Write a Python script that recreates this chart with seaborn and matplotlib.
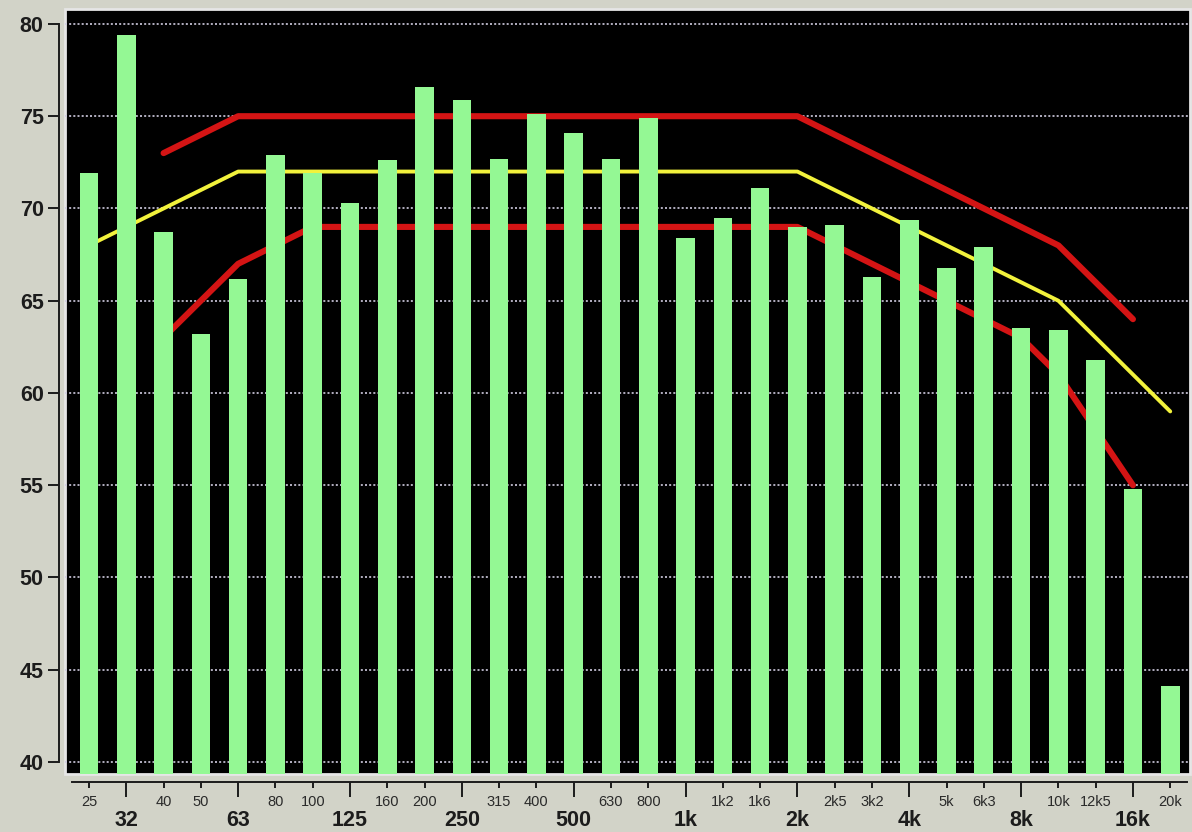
import numpy as np
import matplotlib
matplotlib.use("Agg")
import matplotlib.pyplot as plt
import seaborn as sns

# 1/3 octave bands and measured levels (dB)
bands = ["25", "32", "40", "50", "63", "80", "100", "125", "160", "200",
         "250", "315", "400", "500", "630", "800", "1k", "1k2", "1k6", "2k",
         "2k5", "3k2", "4k", "5k", "6k3", "8k", "10k", "12k5", "16k", "20k"]
levels = [71.9, 79.4, 68.7, 63.2, 66.2, 72.9, 71.9, 70.3, 72.6, 76.6,
          75.9, 72.7, 75.1, 74.1, 72.7, 74.9, 68.4, 69.5, 71.1, 69.0,
          69.1, 66.3, 69.4, 66.8, 67.9, 63.5, 63.4, 61.8, 54.8, 44.1]

# target curve and tolerance limits (None = not drawn)
target = [68, 69, 70, 71, 72, 72, 72, 72, 72, 72,
          72, 72, 72, 72, 72, 72, 72, 72, 72, 72,
          71, 70, 69, 68, 67, 66, 65, 63, 61, 59]
upper = [None, None, 73, 74, 75, 75, 75, 75, 75, 75,
         75, 75, 75, 75, 75, 75, 75, 75, 75, 75,
         74, 73, 72, 71, 70, 69, 68, 66, 64, None]
lower = [None, None, 63, 65, 67, 68, 69, 69, 69, 69,
         69, 69, 69, 69, 69, 69, 69, 69, 69, 69,
         68, 67, 66, 65, 64, 63, 61, 58, 55, None]

major_bands = ["32", "63", "125", "250", "500", "1k", "2k", "4k", "8k", "16k"]

sns.set_style("ticks")
plt.rcParams['font.family'] = ['Liberation Sans', 'DejaVu Sans']

bg = "#d2d3c8"
ink = "#1c1c1c"

fig = plt.figure(figsize=(11.92, 8.32), dpi=100, facecolor=bg)
ax = fig.add_axes([65 / 1192, 58 / 832, 1125 / 1192, 765 / 832])
ax.set_facecolor("black")
ax.patch.set_edgecolor("#e6e6e6")
ax.patch.set_linewidth(2)

sns.barplot(x=bands, y=levels, order=bands, color="#94f894", saturation=1,
            width=0.5, linewidth=0, zorder=3, ax=ax)

pos = np.arange(len(bands))
to_arr = lambda v: np.array([np.nan if a is None else a for a in v], dtype=float)
ax.plot(pos, to_arr(upper), color="#d41414", lw=4.4, zorder=2, solid_capstyle="round")
ax.plot(pos, to_arr(lower), color="#d41414", lw=4.4, zorder=2, solid_capstyle="round")
ax.plot(pos, to_arr(target), color="#f2f23c", lw=2.8, zorder=2, solid_capstyle="round")

ax.set_xlim(-0.644, 29.53)
ax.set_ylim(39.35, 80.81)

# horizontal dotted grid
ax.yaxis.grid(True, color="#d0cce0", linestyle=(0, (1.2, 1.3)), linewidth=1.2)
ax.xaxis.grid(False)
ax.set_axisbelow(True)

yt = np.arange(40, 81, 5)
ax.set_yticks(yt, [str(v) for v in yt])
ax.tick_params(axis="y", length=8, width=1.4, color=ink, pad=3,
               labelsize=15.5, labelcolor=ink)

major_idx = [bands.index(b) for b in major_bands]
minor_idx = [i for i in range(len(bands)) if i not in major_idx]
ax.set_xticks(major_idx, [bands[i] for i in major_idx])
ax.set_xticks(minor_idx, [bands[i] for i in minor_idx], minor=True)
ax.tick_params(axis="x", which="major", length=11, width=1.4, color=ink,
               pad=9, labelsize=15.5, labelcolor=ink)
ax.tick_params(axis="x", which="minor", length=4.5, width=1.4, color=ink,
               pad=5, labelsize=10.5, labelcolor="#2a2a2a")

ax.set_xlabel("")
ax.set_ylabel("")

for side in ["top", "right"]:
    ax.spines[side].set_visible(False)
ax.spines["left"].set_position(("outward", 4.3))
ax.spines["left"].set_bounds(40, 80)
ax.spines["left"].set_color(ink)
ax.spines["left"].set_linewidth(1.4)
ax.spines["bottom"].set_position(("outward", 5.8))
ax.spines["bottom"].set_bounds(-0.456, 29.45)
ax.spines["bottom"].set_color(ink)
ax.spines["bottom"].set_linewidth(1.4)

fig.canvas.draw()
for t in ax.get_xticklabels() + ax.get_yticklabels():
    t.set_fontweight("bold")

fig.savefig("out.png", dpi=100, facecolor=bg)
